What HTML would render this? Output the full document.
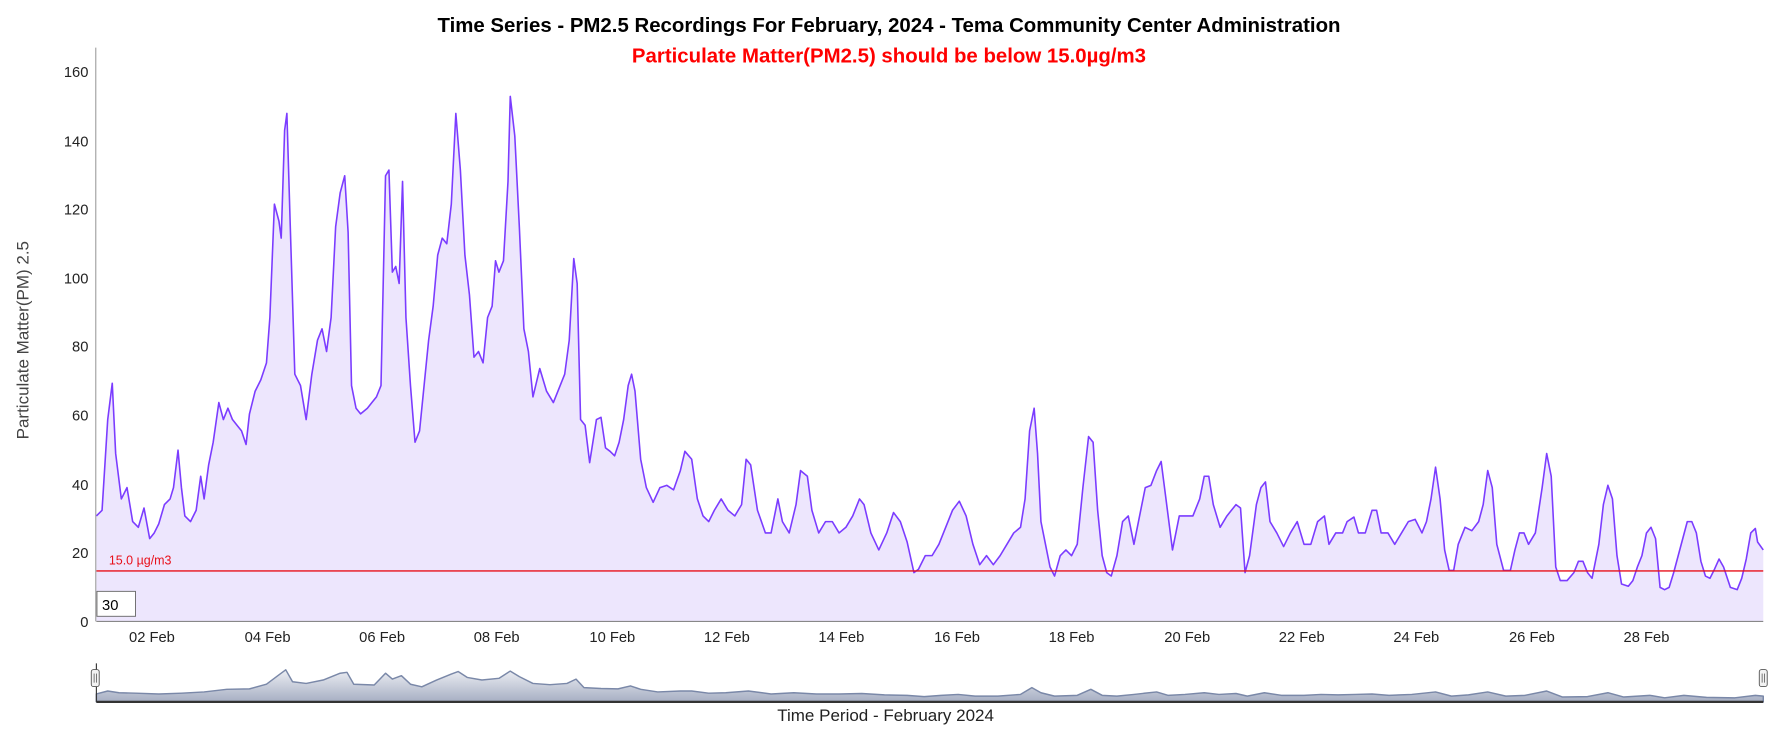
<!DOCTYPE html>
<html><head><meta charset="utf-8"><style>
html,body{margin:0;padding:0;background:#fff;}
svg{display:block;font-family:"Liberation Sans",Arial,sans-serif;}
</style></head><body>
<svg width="1778" height="734" viewBox="0 0 1568 647.3" preserveAspectRatio="none">
<defs>
<linearGradient id="ng" x1="0" y1="0" x2="0" y2="1"><stop offset="0" stop-color="#eceef3"/><stop offset="1" stop-color="#a6aec3"/></linearGradient>
</defs>
<text x="784" y="28" text-anchor="middle" font-size="18" font-weight="bold" fill="#000">Time Series - PM2.5 Recordings For February, 2024 - Tema Community Center Administration</text>
<text x="784" y="55" text-anchor="middle" font-size="18" font-weight="bold" fill="#ff0000">Particulate Matter(PM2.5) should be below 15.0µg/m3</text>
<g font-size="13" fill="#222" text-anchor="end">
<text x="78" y="553">0</text><text x="78" y="492">20</text><text x="78" y="432">40</text><text x="78" y="371">60</text><text x="78" y="310">80</text><text x="78" y="250">100</text><text x="78" y="189">120</text><text x="78" y="129">140</text><text x="78" y="68">160</text>
</g>
<text transform="translate(25,300) rotate(-90)" text-anchor="middle" font-size="15" fill="#444">Particulate Matter(PM) 2.5</text>
<polygon fill="#ede6fd" points="85,548 85,455 90,450 95,370 99,338 102,400 107,440 112,430 117,460 122,465 127,448 132,475 136,470 140,462 145,445 150,440 153,430 157,397 160,430 163,455 168,460 173,450 177,420 180,440 184,410 188,390 193,355 197,370 201,360 205,370 209,375 213,380 217,392 220,365 225,345 230,335 235,320 238,280 242,180 246,195 248,210 251,115 253,100 256,200 260,330 265,340 270,370 275,330 280,300 284,290 288,310 292,280 296,200 300,170 304,155 307,205 310,340 314,360 318,365 324,360 328,355 332,350 336,340 340,155 343,150 346,240 349,235 352,250 355,160 358,280 362,340 366,390 370,380 374,340 378,300 382,270 386,225 390,210 394,215 398,180 402,100 406,150 410,225 414,260 418,315 422,310 426,320 430,280 434,270 437,230 440,240 444,230 448,160 450,85 454,120 458,200 462,290 466,310 470,350 476,325 482,345 488,355 494,340 498,330 502,300 506,228 509,250 512,370 516,375 520,408 526,370 530,368 534,395 538,398 542,402 546,390 550,370 554,340 557,330 560,345 565,405 570,430 576,443 582,430 588,428 594,432 600,415 604,398 610,405 615,440 620,455 625,460 630,450 636,440 642,450 648,455 654,445 658,405 662,410 668,450 675,470 680,470 686,440 690,460 696,470 702,445 706,415 712,420 716,450 722,470 728,460 734,460 740,470 746,465 752,455 758,440 762,445 768,470 775,485 782,470 788,452 794,460 800,478 806,505 810,502 816,490 822,490 828,480 834,465 840,450 846,442 852,455 858,480 864,498 870,490 876,498 882,490 888,480 894,470 900,465 904,440 908,380 912,360 915,400 918,460 922,480 926,500 930,508 935,490 940,485 945,490 950,480 955,430 960,385 964,390 968,450 972,490 976,505 980,508 985,490 990,460 995,455 1000,480 1005,455 1010,430 1015,428 1020,415 1024,407 1028,438 1034,485 1040,455 1046,455 1052,455 1058,440 1062,420 1066,420 1070,445 1076,465 1082,455 1086,450 1090,445 1094,448 1098,505 1102,490 1108,445 1112,430 1116,425 1120,460 1126,470 1132,482 1138,470 1144,460 1150,480 1156,480 1162,460 1168,455 1172,480 1178,470 1184,470 1188,460 1194,456 1198,470 1204,470 1210,450 1214,450 1218,470 1224,470 1230,480 1236,470 1242,460 1248,458 1254,470 1258,460 1262,440 1266,412 1270,440 1274,485 1278,503 1282,503 1286,480 1292,465 1298,468 1304,460 1308,445 1312,415 1316,430 1320,480 1326,503 1332,503 1336,485 1340,470 1344,470 1348,480 1354,470 1360,430 1364,400 1368,420 1372,500 1376,512 1382,512 1388,505 1392,495 1396,495 1400,505 1404,510 1410,480 1414,445 1418,428 1422,440 1426,490 1430,515 1436,517 1440,512 1444,500 1448,490 1452,470 1456,465 1460,475 1464,518 1468,520 1472,518 1476,505 1480,490 1484,475 1488,460 1492,460 1496,470 1500,495 1504,508 1508,510 1512,502 1516,493 1520,500 1526,518 1532,520 1536,510 1540,493 1544,470 1548,466 1550,478 1555,485 1555,548"/>
<polyline fill="none" stroke="#7b3cff" stroke-width="1.4" stroke-linejoin="round" points="85,455 90,450 95,370 99,338 102,400 107,440 112,430 117,460 122,465 127,448 132,475 136,470 140,462 145,445 150,440 153,430 157,397 160,430 163,455 168,460 173,450 177,420 180,440 184,410 188,390 193,355 197,370 201,360 205,370 209,375 213,380 217,392 220,365 225,345 230,335 235,320 238,280 242,180 246,195 248,210 251,115 253,100 256,200 260,330 265,340 270,370 275,330 280,300 284,290 288,310 292,280 296,200 300,170 304,155 307,205 310,340 314,360 318,365 324,360 328,355 332,350 336,340 340,155 343,150 346,240 349,235 352,250 355,160 358,280 362,340 366,390 370,380 374,340 378,300 382,270 386,225 390,210 394,215 398,180 402,100 406,150 410,225 414,260 418,315 422,310 426,320 430,280 434,270 437,230 440,240 444,230 448,160 450,85 454,120 458,200 462,290 466,310 470,350 476,325 482,345 488,355 494,340 498,330 502,300 506,228 509,250 512,370 516,375 520,408 526,370 530,368 534,395 538,398 542,402 546,390 550,370 554,340 557,330 560,345 565,405 570,430 576,443 582,430 588,428 594,432 600,415 604,398 610,405 615,440 620,455 625,460 630,450 636,440 642,450 648,455 654,445 658,405 662,410 668,450 675,470 680,470 686,440 690,460 696,470 702,445 706,415 712,420 716,450 722,470 728,460 734,460 740,470 746,465 752,455 758,440 762,445 768,470 775,485 782,470 788,452 794,460 800,478 806,505 810,502 816,490 822,490 828,480 834,465 840,450 846,442 852,455 858,480 864,498 870,490 876,498 882,490 888,480 894,470 900,465 904,440 908,380 912,360 915,400 918,460 922,480 926,500 930,508 935,490 940,485 945,490 950,480 955,430 960,385 964,390 968,450 972,490 976,505 980,508 985,490 990,460 995,455 1000,480 1005,455 1010,430 1015,428 1020,415 1024,407 1028,438 1034,485 1040,455 1046,455 1052,455 1058,440 1062,420 1066,420 1070,445 1076,465 1082,455 1086,450 1090,445 1094,448 1098,505 1102,490 1108,445 1112,430 1116,425 1120,460 1126,470 1132,482 1138,470 1144,460 1150,480 1156,480 1162,460 1168,455 1172,480 1178,470 1184,470 1188,460 1194,456 1198,470 1204,470 1210,450 1214,450 1218,470 1224,470 1230,480 1236,470 1242,460 1248,458 1254,470 1258,460 1262,440 1266,412 1270,440 1274,485 1278,503 1282,503 1286,480 1292,465 1298,468 1304,460 1308,445 1312,415 1316,430 1320,480 1326,503 1332,503 1336,485 1340,470 1344,470 1348,480 1354,470 1360,430 1364,400 1368,420 1372,500 1376,512 1382,512 1388,505 1392,495 1396,495 1400,505 1404,510 1410,480 1414,445 1418,428 1422,440 1426,490 1430,515 1436,517 1440,512 1444,500 1448,490 1452,470 1456,465 1460,475 1464,518 1468,520 1472,518 1476,505 1480,490 1484,475 1488,460 1492,460 1496,470 1500,495 1504,508 1508,510 1512,502 1516,493 1520,500 1526,518 1532,520 1536,510 1540,493 1544,470 1548,466 1550,478 1555,485"/>
<line x1="85" y1="503.5" x2="1555" y2="503.5" stroke="#e8101a" stroke-width="1.2"/>
<text x="96" y="498" font-size="11" fill="#e8101a">15.0 µg/m3</text>
<rect x="85.5" y="521.5" width="34" height="22" fill="#fff" stroke="#666" stroke-width="0.8"/>
<text x="90" y="538" font-size="13" fill="#000">30</text>
<line x1="84.5" y1="42" x2="84.5" y2="548" stroke="#888" stroke-width="0.8"/>
<line x1="85" y1="548" x2="1555" y2="548" stroke="#888" stroke-width="1"/>
<g font-size="13" fill="#222" text-anchor="middle">
<text x="134" y="566">02 Feb</text><text x="236" y="566">04 Feb</text><text x="337" y="566">06 Feb</text><text x="438" y="566">08 Feb</text><text x="540" y="566">10 Feb</text><text x="641" y="566">12 Feb</text><text x="742" y="566">14 Feb</text><text x="844" y="566">16 Feb</text><text x="945" y="566">18 Feb</text><text x="1047" y="566">20 Feb</text><text x="1148" y="566">22 Feb</text><text x="1249" y="566">24 Feb</text><text x="1351" y="566">26 Feb</text><text x="1452" y="566">28 Feb</text>
</g>
<polygon fill="url(#ng)" stroke="#7a88a8" stroke-width="1.3" stroke-linejoin="round" points="85,619 85,612 95,609.4 105,610.9 120,611.3 140,612 160,611.3 180,610.2 200,607.9 220,607.5 235,603.4 245,595.9 252,590.7 258,601.2 270,602.7 285,599.7 300,593.7 306,592.9 312,603.4 330,604.1 340,593.7 346,598.9 354,595.9 362,603.4 372,605.7 385,599.7 398,594.4 404,592.2 412,597.4 425,599.7 440,598.2 450,591.8 458,596.7 470,602.7 485,603.8 500,602.7 508,598.9 515,606.4 530,607.2 545,607.5 556,604.9 565,607.9 580,610.2 600,609.4 610,609.4 625,611.3 640,610.9 660,609.4 680,612 700,610.9 720,612 740,612 760,611.6 780,612.8 800,613.2 815,614.3 830,613.2 845,612.4 860,613.9 880,613.9 900,612.4 910,606.4 918,610.9 930,613.9 950,613.2 962,607.9 972,613.2 985,613.9 1000,612.4 1020,610.2 1030,613.2 1045,612.4 1062,610.9 1075,612.4 1090,611.6 1100,613.9 1115,610.9 1130,613.2 1150,613.2 1165,612.4 1180,612.8 1195,612.4 1210,612 1225,613.2 1245,612.4 1266,610.2 1280,613.9 1295,612.8 1312,610.2 1328,613.9 1345,613.2 1364,609.4 1378,614.7 1400,614.3 1418,610.9 1432,614.7 1455,613.2 1468,615.4 1485,613.2 1505,615 1530,615.4 1548,613.2 1555,613.9 1555,619"/>
<line x1="85" y1="585" x2="85" y2="619" stroke="#333" stroke-width="1"/>
<line x1="85" y1="619" x2="1555" y2="619" stroke="#333" stroke-width="2"/>
<rect x="80.5" y="590.5" width="7" height="15" rx="2" fill="#f2f2f2" stroke="#555" stroke-width="0.8"/>
<line x1="83" y1="594" x2="83" y2="602" stroke="#555" stroke-width="0.7"/><line x1="85" y1="594" x2="85" y2="602" stroke="#555" stroke-width="0.7"/>
<rect x="1551.5" y="590.5" width="7" height="15" rx="2" fill="#f2f2f2" stroke="#555" stroke-width="0.8"/>
<line x1="1554" y1="594" x2="1554" y2="602" stroke="#555" stroke-width="0.7"/><line x1="1556" y1="594" x2="1556" y2="602" stroke="#555" stroke-width="0.7"/>
<text x="781" y="636" text-anchor="middle" font-size="15" fill="#222">Time Period - February 2024</text>
</svg>
</body></html>
